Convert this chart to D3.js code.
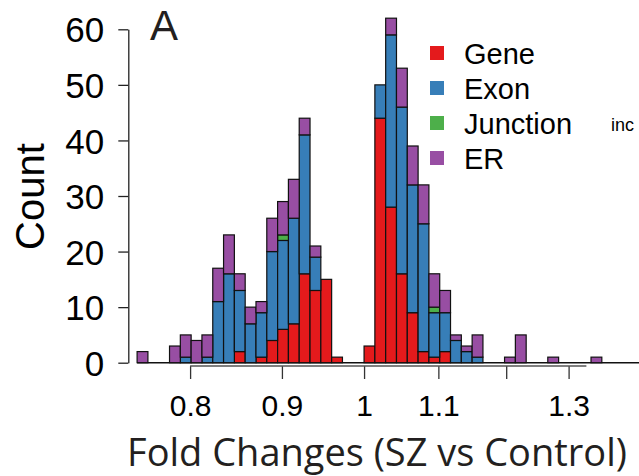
<!DOCTYPE html>
<html>
<head>
<meta charset="utf-8">
<script src="https://cdn.jsdelivr.net/npm/d3@7"></script>
<style>
  body { margin: 0; background: #fff; }
  svg { display: block; }
</style>
</head>
<body>
<svg id="chart" width="639" height="476"></svg>
<script>
"use strict";

// histogram bins: lower edge of each bin, in log2(fold change), bin width 0.02
const binLog2 = [-0.42, -0.40, -0.38, -0.36, -0.34, -0.32, -0.30, -0.28, -0.26, -0.24,
                 -0.22, -0.20, -0.18, -0.16, -0.14, -0.12, -0.10, -0.08, -0.06, -0.04,
                 -0.02,  0.00,  0.02,  0.04,  0.06,  0.08,  0.10,  0.12,  0.14,  0.16,
                  0.18,  0.20,  0.22,  0.24,  0.26,  0.28,  0.30,  0.32,  0.34,  0.36,
                  0.38,  0.40,  0.42,  0.44,  0.46,  0.48,  0.50];
const binWidth = 0.02;

// counts per bin, one array per feature type
const gene     = [0,0,0,0,0,0,0,0,0,2, 0,1,4,6,7,16,13,15,1,0, 0,3,44,28,16,9,2,1,2,0, 0,0,0,0,0,0,0,0,0,0, 0,0,0,0,0,0,0];
const exon     = [0,0,0,0,1,0,1,11,16,11, 7,8,16,16,19,25,6,0,0,0, 0,0,6,31,30,23,23,8,7,4, 2,1,0,0,0,0,0,0,0,0, 0,0,0,0,0,0,0];
const junction = [0,0,0,0,0,0,0,0,0,0, 0,0,0,1,0,0,0,0,0,0, 0,0,0,0,0,0,0,1,0,0, 0,0,0,0,0,0,0,0,0,0, 0,0,0,0,0,0,0];
const er       = [2,0,0,3,4,4,4,6,7,3, 3,2,6,6,7,3,2,0,0,0, 0,0,0,3,7,7,7,6,4,1, 1,4,0,0,1,5,0,0,1,0, 0,0,1,0,0,0,0];

const seriesNames  = ["Gene", "Exon", "Junction", "ER"];
const seriesColors = ["#e41a1c", "#377eb8", "#4daf4a", "#984ea3"];

const xTicks  = [0.8, 0.9, 1, 1.1, 1.2, 1.3];
const xLabels = ["0.8", "0.9", "1", "1.1", "", "1.3"];
const yTicks  = [0, 10, 20, 30, 40, 50, 60];

const svg = d3.select("#chart");

// fold change axis is logarithmic, bins are even in log2 space
const x = d3.scaleLog().domain([0.8, 1.3]).range([190.1, 568.6]);
const y = d3.scaleLinear().domain([0, 60]).range([362.7, 29.3]);

// build a table for d3.stack
const table = binLog2.map((b, i) => ({
  lo: b,
  Gene: gene[i], Exon: exon[i], Junction: junction[i], ER: er[i]
}));
const stacked = d3.stack().keys(seriesNames)(table);

// baseline under all bins (empty bins show as a flat line)
svg.append("line")
  .attr("x1", x(Math.pow(2, binLog2[0])))
  .attr("x2", x(Math.pow(2, binLog2[binLog2.length - 1] + binWidth)))
  .attr("y1", y(0)).attr("y2", y(0))
  .attr("stroke", "#111").attr("stroke-width", 1.5);

// the bars
svg.append("g")
  .selectAll("g")
  .data(stacked)
  .join("g")
  .attr("fill", (d, i) => seriesColors[i])
  .selectAll("rect")
  .data(d => d.filter(s => s[1] > s[0]))
  .join("rect")
  .attr("x", d => x(Math.pow(2, d.data.lo)))
  .attr("width", d => x(Math.pow(2, d.data.lo + binWidth)) - x(Math.pow(2, d.data.lo)))
  .attr("y", d => y(d[1]))
  .attr("height", d => y(d[0]) - y(d[1]))
  .attr("stroke", "#111")
  .attr("stroke-width", 1.2);

// y axis
const yAxis = svg.append("g")
  .attr("transform", "translate(128.3,0)")
  .call(d3.axisLeft(y).tickValues(yTicks).tickSize(10).tickSizeOuter(0).tickPadding(14));
yAxis.select(".domain").attr("stroke", "#222").attr("stroke-width", 1.3);
yAxis.selectAll(".tick line").attr("stroke", "#222").attr("stroke-width", 1.3);
yAxis.selectAll(".tick text")
  .attr("font-family", "'Liberation Sans', Arial, sans-serif")
  .attr("font-size", 35)
  .attr("fill", "#000")
  .attr("dy", "0.36em");

// x axis
const xAxis = svg.append("g")
  .attr("transform", "translate(0,366)")
  .call(d3.axisBottom(x).tickValues(xTicks).tickFormat((d, i) => xLabels[i]).tickSize(13).tickSizeOuter(0));
xAxis.select(".domain").remove();
xAxis.append("line")
  .attr("x1", x(0.8)).attr("x2", x(1.33))
  .attr("stroke", "#555").attr("stroke-width", 1.6);
xAxis.selectAll(".tick line").attr("stroke", "#333").attr("stroke-width", 1.3);
xAxis.selectAll(".tick text")
  .attr("font-family", "'Liberation Sans', Arial, sans-serif")
  .attr("font-size", 30)
  .attr("fill", "#000")
  .attr("y", 50)
  .attr("dy", 0);

// axis titles
const xTitle = svg.append("text")
  .attr("x", 377).attr("y", 466)
  .attr("text-anchor", "middle")
  .attr("font-family", "'Open Sans', sans-serif")
  .attr("font-size", 30)
  .attr("fill", "#231f20")
  .text("Fold Changes (SZ vs Control)");
// fit the title to the width it has in the figure
const w = xTitle.node().getComputedTextLength();
xTitle.attr("font-size", 30 * 500 / w);

svg.append("text")
  .attr("transform", "translate(44,196.5) rotate(-90)")
  .attr("text-anchor", "middle")
  .attr("font-family", "'Liberation Sans', Arial, sans-serif")
  .attr("font-size", 40)
  .attr("fill", "#000")
  .text("Count");

// panel letter
svg.append("text")
  .attr("x", 150).attr("y", 40)
  .attr("font-family", "'Liberation Sans', Arial, sans-serif")
  .attr("font-size", 42)
  .attr("fill", "#231f20")
  .text("A");

// legend
const legend = svg.append("g")
  .selectAll("g")
  .data(seriesNames)
  .join("g")
  .attr("transform", (d, i) => `translate(430,${46 + i * 35})`);

legend.append("rect")
  .attr("width", 14).attr("height", 14)
  .attr("fill", (d, i) => seriesColors[i]);

legend.append("text")
  .attr("x", 34).attr("y", 17.5)
  .attr("font-family", "'Liberation Sans', Arial, sans-serif")
  .attr("font-size", 29)
  .attr("fill", "#000")
  .text(d => d);

// fragment of the neighbouring panel, cut by the edge
svg.append("text")
  .attr("x", 611).attr("y", 131)
  .attr("font-family", "'Liberation Sans', Arial, sans-serif")
  .attr("font-size", 18)
  .attr("fill", "#000")
  .text("inc");
</script>
</body>
</html>
